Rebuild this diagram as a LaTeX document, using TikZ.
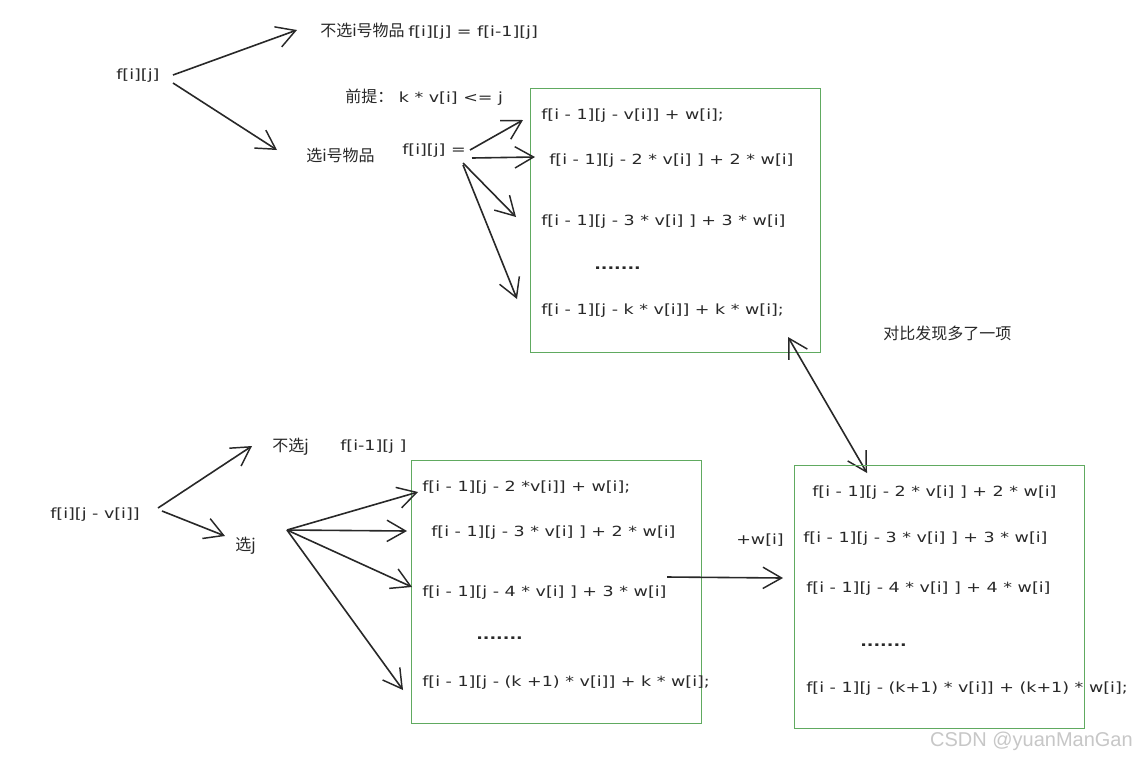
\documentclass[tikz,border=0pt]{standalone}
\usepackage{fontspec}
\setmainfont{DejaVu Sans}
\newfontfamily\cjk{Noto Sans CJK SC}
\newfontfamily\hand[FakeStretch=1.25]{DejaVu Sans}
\usetikzlibrary{arrows.meta}
\definecolor{boxgreen}{RGB}{96,170,96}
\definecolor{ink}{RGB}{40,40,40}
\newcommand{\lat}[1]{{\hand\fontsize{10.5}{12}\selectfont #1}}
\begin{document}
\begin{tikzpicture}[x=0.75pt,y=-0.75pt,
  lbl/.style={inner sep=0pt, anchor=west, text=ink, font=\hand\fontsize{10.5}{12}\selectfont},
  zh/.style={inner sep=0pt, anchor=west, text=ink, font=\cjk\fontsize{12}{14}\selectfont},
  box/.style={draw=boxgreen, line width=1.1pt, anchor=north west, inner sep=0pt},
  arr/.style={draw=ink, line width=1.2pt, -{Straight Barb[length=14pt,width=16pt,line width=1.1pt]}},
  darr/.style={draw=ink, line width=1.2pt, {Straight Barb[length=14pt,width=16pt,line width=1.1pt]}-{Straight Barb[length=14pt,width=16pt,line width=1.1pt]}}]
\useasboundingbox (0,0) rectangle (1137,761);
\fill[white] (0,0) rectangle (1137,761);

% ---------- top part ----------
\node[lbl] (fij) at (116,76) {f[i][j]};
\node[zh] (nosel) at (320,31) {不选i号物品\ \lat{f[i][j] = f[i-1][j]}};
\node[zh] (pre) at (345,97) {前提：\lat{\ k * v[i] <= j}};
\node[zh] (sel) at (306,155) {选i号物品};
\node[lbl] (fijeq) at (402,151) {f[i][j] =};

\coordinate (a1s) at (173,75);  \coordinate (a1e) at (297,30);
\coordinate (a2s) at (173,83);  \coordinate (a2e) at (277,150);
\draw[arr] (a1s) -- (a1e);
\draw[arr] (a2s) -- (a2e);

\node[box, minimum width=217.5pt, minimum height=198pt] (box1) at (530,88) {};
\node[lbl] (t11) at (541,116) {f[i - 1][j - v[i]] + w[i];};
\node[lbl] (t12) at (549,161) {f[i - 1][j - 2 * v[i] ] + 2 * w[i]};
\node[lbl] (t13) at (541,222) {f[i - 1][j - 3 * v[i] ] + 3 * w[i]};
\node[lbl] (t14) at (594,268) {\textbf{.......}};
\node[lbl] (t15) at (541,311) {f[i - 1][j - k * v[i]] + k * w[i];};

\coordinate (b1s) at (470,150); \coordinate (b1e) at (523,120);
\coordinate (b2s) at (472,158); \coordinate (b2e) at (535,157);
\coordinate (b3s) at (463,163); \coordinate (b3e) at (516,217);
\coordinate (b4s) at (463,165); \coordinate (b4e) at (517,299);
\draw[arr] (b1s) -- (b1e);
\draw[arr] (b2s) -- (b2e);
\draw[arr] (b3s) -- (b3e);
\draw[arr] (b4s) -- (b4e);

\node[zh] (cmp) at (883,333) {对比发现多了一项};
\coordinate (dA) at (788,337); \coordinate (dB) at (867,473);
\draw[darr] (dA) -- (dB);

% ---------- bottom part ----------
\node[lbl] (fjv) at (50,515) {f[i][j - v[i]]};
\node[zh] (noj) at (272,447) {不选j};
\node[lbl] (fim) at (340,447) {f[i-1][j ]};
\node[zh] (selj) at (235,546) {选j};

\coordinate (c1s) at (158,508); \coordinate (c1e) at (252,446);
\coordinate (c2s) at (162,511); \coordinate (c2e) at (225,536);
\draw[arr] (c1s) -- (c1e);
\draw[arr] (c2s) -- (c2e);

\node[box, minimum width=217.5pt, minimum height=197pt] (box2) at (411,460) {};
\node[lbl] (t21) at (422,488) {f[i - 1][j - 2 *v[i]] + w[i];};
\node[lbl] (t22) at (431,533) {f[i - 1][j - 3 * v[i] ] + 2 * w[i]};
\node[lbl] (t23) at (422,593) {f[i - 1][j - 4 * v[i] ] + 3 * w[i]};
\node[lbl] (t24) at (476,638) {\textbf{.......}};
\node[lbl] (t25) at (422,683) {f[i - 1][j - (k +1) * v[i]] + k * w[i];};

\coordinate (e0) at (287,530);
\coordinate (e1) at (418,492);
\coordinate (e2) at (407,531);
\coordinate (e3) at (412,587);
\coordinate (e4) at (403,690);
\draw[arr] (e0) -- (e1);
\draw[arr] (e0) -- (e2);
\draw[arr] (e0) -- (e3);
\draw[arr] (e0) -- (e4);

\node[lbl] (plusw) at (736,540) {+w[i]};
\coordinate (f1) at (667,577); \coordinate (f2) at (783,578);
\draw[arr] (f1) -- (f2);

\node[box, minimum width=217.5pt, minimum height=197pt] (box3) at (794,465) {};
\node[lbl] (t31) at (812,493) {f[i - 1][j - 2 * v[i] ] + 2 * w[i]};
\node[lbl] (t32) at (803,539) {f[i - 1][j - 3 * v[i] ] + 3 * w[i]};
\node[lbl] (t33) at (806,589) {f[i - 1][j - 4 * v[i] ] + 4 * w[i]};
\node[lbl] (t34) at (860,645) {\textbf{.......}};
\node[lbl] (t35) at (806,689) {f[i - 1][j - (k+1) * v[i]] + (k+1) * w[i];};

\node[inner sep=0pt, anchor=east, text=black!22, font=\fontspec{Liberation Sans}\fontsize{15}{17}\selectfont] (wm) at (1133,741) {CSDN @yuanManGan};
\end{tikzpicture}
\end{document}
